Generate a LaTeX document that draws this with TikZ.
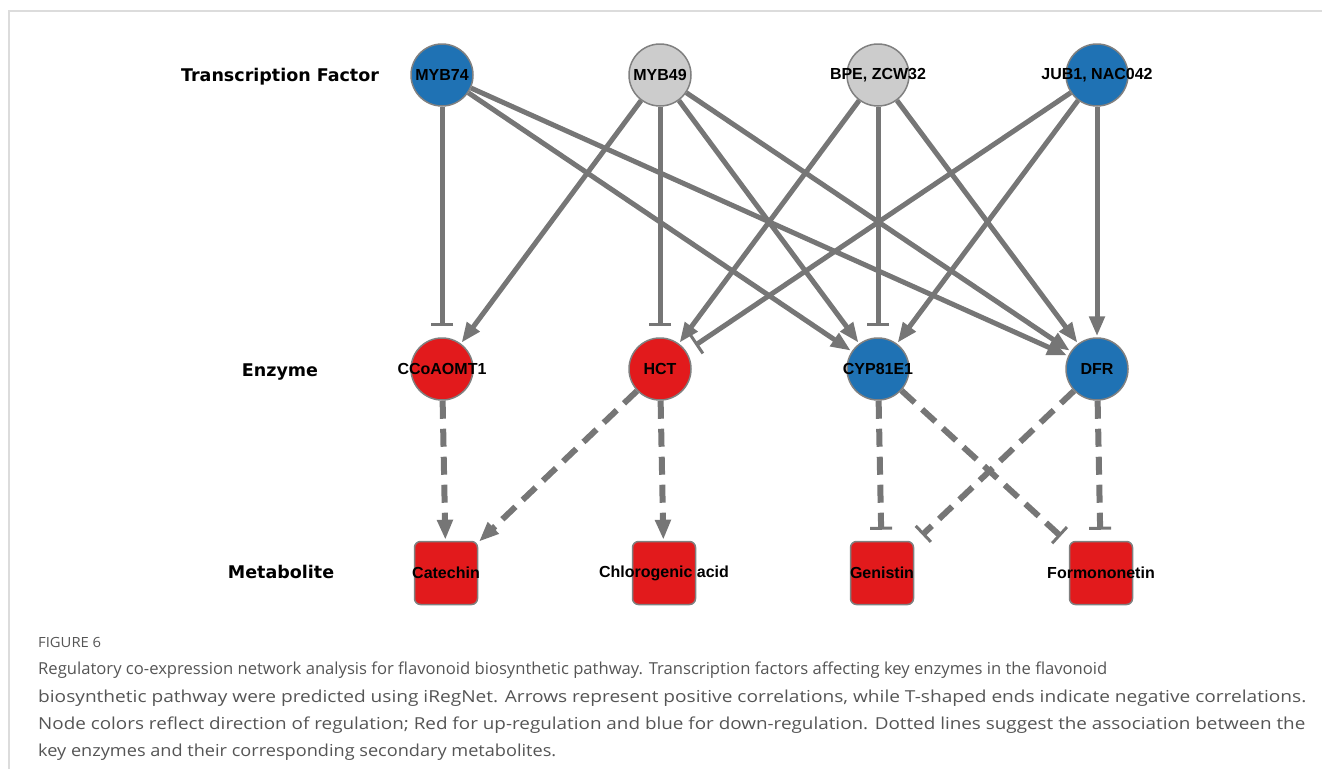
\documentclass[tikz,border=0pt]{standalone}
\usepackage{fontspec}
\usepackage{graphicx}
\setmainfont{Liberation Sans}
\newfontfamily\layerfont{DejaVu Sans}
\newfontfamily\capfont{Open Sans}
\usepackage{tikz}
\usetikzlibrary{arrows.meta}
\definecolor{upred}{RGB}{226,26,28}
\definecolor{downblue}{RGB}{31,114,180}
\definecolor{nochange}{RGB}{204,204,204}
\definecolor{edgegray}{RGB}{118,118,118}
\definecolor{rimgray}{RGB}{128,128,128}
\definecolor{capgray}{RGB}{85,85,85}
\definecolor{framegray}{RGB}{220,220,220}
% caption line stretched to the width it has in the figure
\newcommand{\capfit}[2]{\resizebox{#1pt}{\height}{#2}}
\tikzset{
  gene/.style={circle,draw=rimgray,line width=1.5pt,minimum size=62pt,inner sep=0pt},
  metab/.style={rectangle,rounded corners=6pt,draw=rimgray,line width=1.5pt,
    fill=upred,minimum size=63pt,inner sep=0pt},
  genelbl/.style={font=\bfseries\fontsize{16}{16}\selectfont,inner sep=0pt},
  layer/.style={font=\layerfont\bfseries\fontsize{17.5}{17.5}\selectfont},
  capline/.style={anchor=base west,inner sep=0pt,text=capgray,
    font=\capfont\fontsize{16.5}{16.5}\selectfont},
  link/.style={draw=edgegray,line width=5pt},
  act/.style={link,-{Triangle[length=20pt,width=15pt]},shorten >=1pt},
  inh/.style={link,-{Bar[width=22pt,line width=3pt]},shorten >=11pt},
  assoc/.style={dash pattern=on 18pt off 10pt,line width=6pt}
}

\begin{document}
\begin{tikzpicture}[x=1pt,y=-1pt,line cap=butt]
  \useasboundingbox (0,0) rectangle (1322,769);

  % frame
  \draw [framegray,line width=1.5pt] (9,769) -- (9,11) -- (1322,11);

  % layer titles
  \node [layer] (ttf) at (280,77) {Transcription Factor};
  \node [layer] (tenz) at (280,372) {Enzyme};
  \node [layer] (tmet) at (281,572) {Metabolite};

  % transcription factors
  \node [gene,fill=downblue,label={[genelbl]center:MYB74}] (myb74) at (442,75) {};
  \node [gene,fill=nochange,label={[genelbl]center:MYB49}] (myb49) at (660,75) {};
  \node [gene,fill=nochange,label={[genelbl]center:BPE, ZCW32}] (bpe) at (878,75) {};
  \node [gene,fill=downblue,label={[genelbl]center:JUB1, NAC042}] (jub1) at (1097,75) {};

  % enzymes
  \node [gene,fill=upred,label={[genelbl]center:CCoAOMT1}] (ccoaomt) at (442,369) {};
  \node [gene,fill=upred,label={[genelbl]center:HCT}] (hct) at (660,369) {};
  \node [gene,fill=downblue,label={[genelbl]center:CYP81E1}] (cyp) at (878,369) {};
  \node [gene,fill=downblue,label={[genelbl]center:DFR}] (dfr) at (1097,369) {};

  % metabolites
  \node [metab,label={[genelbl]center:Catechin}] (catechin) at (446,573) {};
  \node [metab,label={[genelbl]center:Chlorogenic acid}] (chlor) at (664,573) {};
  \node [metab,label={[genelbl]center:Genistin}] (genistin) at (882,573) {};
  \node [metab,label={[genelbl]center:Formononetin}] (formo) at (1101,573) {};

  % TF -> enzyme
  \draw [inh] (myb74) -- (ccoaomt);
  \draw [act] (myb74) -- (cyp);
  \draw [act] (myb74) -- (dfr);
  \draw [act] (myb49) -- (ccoaomt);
  \draw [inh] (myb49) -- (hct);
  \draw [act] (myb49) -- (cyp);
  \draw [act] (myb49) -- (dfr);
  \draw [act] (bpe) -- (hct);
  \draw [inh] (bpe) -- (cyp);
  \draw [act] (bpe) -- (dfr);
  \draw [inh] (jub1) -- (hct);
  \draw [act] (jub1) -- (cyp);
  \draw [act] (jub1) -- (dfr);

  % enzyme -> metabolite
  \draw [act,assoc] (ccoaomt) -- (catechin);
  \draw [act,assoc] (hct) -- (catechin);
  \draw [act,assoc] (hct) -- (chlor);
  \draw [inh,assoc] (cyp) -- (genistin);
  \draw [inh,assoc] (cyp) -- (formo);
  \draw [inh,assoc] (dfr) -- (genistin);
  \draw [inh,assoc] (dfr) -- (formo);

  % caption
  \node [capline,font=\capfont\fontsize{14}{14}\selectfont] (fig) at (38,647) {\capfit{63}{FIGURE 6}};
  \node [capline] (cap1) at (38,674) {\capfit{1069}{Regulatory co-expression network analysis for flavonoid biosynthetic pathway. Transcription factors affecting key enzymes in the flavonoid}};
  \node [capline] (cap2) at (38,702) {\capfit{1268}{biosynthetic pathway were predicted using iRegNet. Arrows represent positive correlations, while T-shaped ends indicate negative correlations.}};
  \node [capline] (cap3) at (38,729) {\capfit{1267}{Node colors reflect direction of regulation; Red for up-regulation and blue for down-regulation. Dotted lines suggest the association between the}};
  \node [capline] (cap4) at (38,756) {\capfit{518}{key enzymes and their corresponding secondary metabolites.}};
\end{tikzpicture}
\end{document}
